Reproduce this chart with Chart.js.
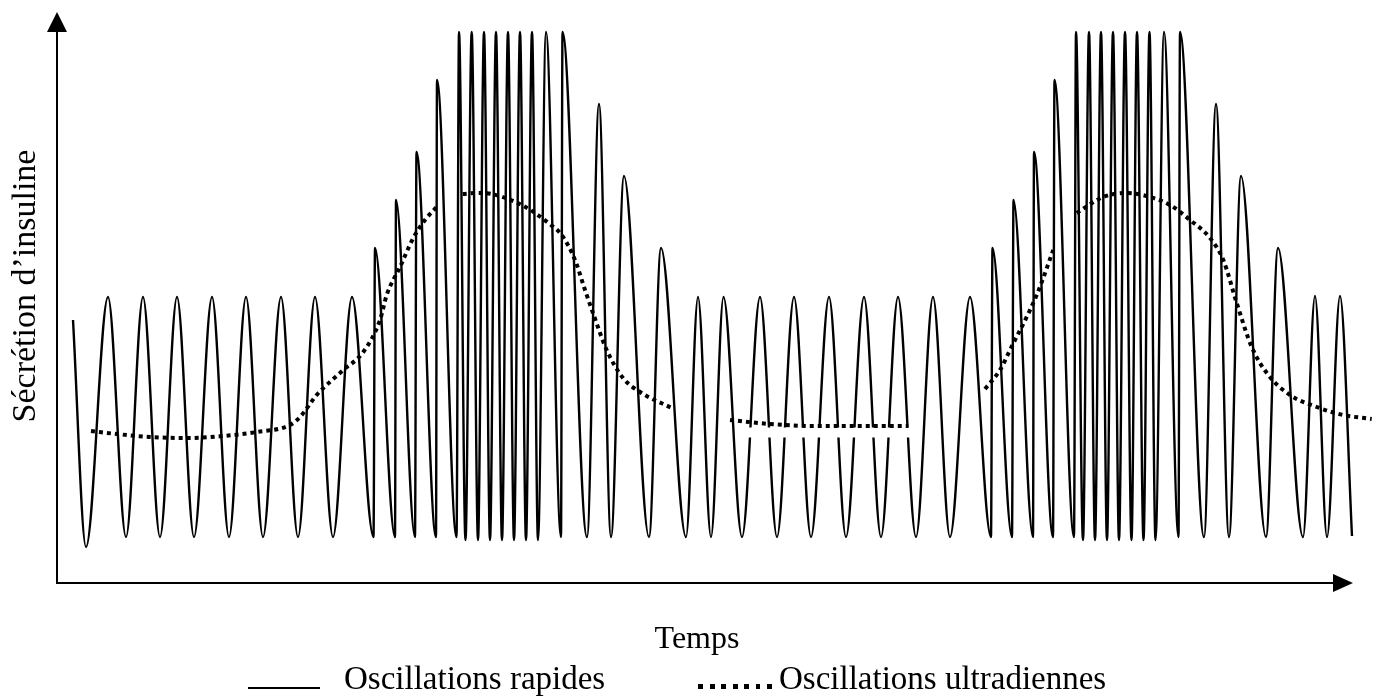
<!DOCTYPE html>
<html lang="fr">
<head>
<meta charset="utf-8">
<title>Sécrétion d'insuline</title>
<script src="https://cdn.jsdelivr.net/npm/chart.js@4/dist/chart.umd.min.js"></script>
<style>
  body { margin: 0; background: #fff; }
  #wrap { position: relative; width: 1386px; height: 697px; overflow: hidden; font-family: "Liberation Serif", "Times New Roman", serif; color: #000; }
  #chart { position: absolute; left: 0; top: 0; }
  .lbl { position: absolute; white-space: nowrap; line-height: 1; }
  #ylab { left: -176px; top: 269px; width: 400px; text-align: center; font-size: 34px; transform: rotate(-90deg); }
  #xlab { left: 597px; top: 621px; width: 200px; text-align: center; font-size: 32px; }
  .leg { top: 662px; font-size: 33px; }
  #legSolid { position: absolute; left: 248px; top: 687px; width: 72px; height: 2px; background: #000; }
  #legDot { position: absolute; left: 698px; top: 684px; width: 74px; height: 5px;
            background: repeating-linear-gradient(90deg, #000 0 5px, transparent 5px 11.5px); }
</style>
</head>
<body>
<div id="wrap">
  <canvas id="chart" width="1386" height="697"></canvas>
  <div class="lbl" id="ylab">Sécrétion d’insuline</div>
  <div class="lbl" id="xlab">Temps</div>
  <div id="legSolid"></div>
  <div class="lbl leg" style="left:344px">Oscillations rapides</div>
  <div id="legDot"></div>
  <div class="lbl leg" style="left:779px">Oscillations ultradiennes</div>
</div>
<script>
//Fast oscillations: peaks and troughs (time, level)
let rapidTime = [16, 29, 51, 69, 86, 103, 120, 137, 155, 172, 189, 206, 224, 241, 258, 276, 295, 316.5,
    318, 338, 339, 358, 359.5, 379, 380, 399.5,
    402, 408.5, 414.7, 421, 427, 433, 439, 445, 451, 457, 463, 469, 475, 481,
    489, 504, 505.5, 530, 542, 554, 567, 592, 604, 629,
    641, 654, 666.5, 685, 703, 720, 737, 754, 772, 789, 807, 824, 841, 859, 876, 893, 913, 934,
    935.5, 955, 956.5, 976, 977, 996, 997.5, 1017,
    1019, 1026, 1032, 1038, 1044, 1050, 1056, 1062, 1068, 1074.5, 1080, 1086.5, 1092.5, 1098.5,
    1107, 1121.5, 1123, 1147, 1159, 1172, 1184, 1209, 1221, 1246,
    1258, 1270, 1283, 1295];
let rapidLevel = [263, 36, 286, 46, 286, 46, 286, 46, 286, 46, 286, 46, 286, 46, 286, 46, 286, 46,
    335, 46, 383, 46, 431, 46, 503, 46,
    551, 43, 551, 43, 551, 43, 551, 43, 551, 43, 551, 43, 551, 43,
    551, 46, 551, 46, 479, 46, 407, 46, 335, 46,
    286, 46, 286, 46, 286, 46, 286, 46, 286, 46, 286, 46, 286, 46, 286, 46, 286, 46,
    335, 46, 383, 46, 431, 46, 503, 46,
    551, 43, 551, 43, 551, 43, 551, 43, 551, 43, 551, 43, 551, 43,
    551, 46, 551, 46, 479, 46, 407, 46, 335, 46,
    287, 46, 287, 47];

//Ultradian oscillations (dotted), null = break in the curve
let ultraTime = [34, 59.7, 93, 133, 166, 199.7, 233, 243, 259.7, 286.3, 306.3, 323, 329.7, 343, 356.3, 368, 379.7,
    392,
    405.7, 421.3, 434.7, 451.3, 464.7, 478, 491.3, 504.7, 518, 528, 536, 549.7, 566, 583, 614.7,
    644,
    673, 713, 756.3, 806.3, 851.3,
    890,
    928, 943, 953, 979.7, 996.3,
    1008,
    1019.7, 1046.3, 1069.7, 1093, 1113, 1133, 1153, 1166.3, 1179.7, 1194.7, 1211.3, 1233, 1259.7, 1286.3, 1314.7];
let ultraLevel = [152, 149, 146, 145, 147, 151, 158, 166, 188, 213, 231, 263, 288, 316, 345, 363, 376,
    null,
    389, 390, 389, 384, 378, 370, 360, 348, 323, 293, 270, 233, 205, 191, 175,
    null,
    163, 159, 157, 157, 157,
    null,
    194, 213, 233, 288, 333,
    null,
    370, 386, 390, 386, 378, 363, 345, 323, 280, 236, 208, 188, 176, 168, 164];

//White band under the flat part of the dotted curve
let maskTime = [678, 853];
let maskLevel = [150.5, 150.5];

function toPoints(xs, ys) {
    let arr = [];
    for (let i = 0; i < xs.length; i++) {
        arr.push({x: xs[i], y: ys[i]});
    }
    return arr;
}

//Axes with arrow heads
const axesArrows = {
    id: 'axesArrows',
    afterDraw(chart) {
        const ctx = chart.ctx;
        const x0 = chart.chartArea.left;
        const y0 = chart.chartArea.bottom;
        ctx.save();
        ctx.strokeStyle = '#000';
        ctx.fillStyle = '#000';
        ctx.lineWidth = 2;
        ctx.beginPath();
        ctx.moveTo(x0, y0 + 1);
        ctx.lineTo(x0, 30);
        ctx.moveTo(x0 - 1, y0);
        ctx.lineTo(1336, y0);
        ctx.stroke();
        ctx.beginPath();
        ctx.moveTo(x0, 12);
        ctx.lineTo(x0 - 10, 32);
        ctx.lineTo(x0 + 10, 32);
        ctx.closePath();
        ctx.fill();
        ctx.beginPath();
        ctx.moveTo(1353, y0);
        ctx.lineTo(1333, y0 - 9);
        ctx.lineTo(1333, y0 + 9);
        ctx.closePath();
        ctx.fill();
        ctx.restore();
    }
};

new Chart(document.getElementById('chart'), {
    type: 'line',
    data: {
        datasets: [{
            label: 'Oscillations ultradiennes',
            data: toPoints(ultraTime, ultraLevel),
            borderColor: '#000',
            borderWidth: 4,
            borderDash: [4, 4],
            borderCapStyle: 'butt',
            cubicInterpolationMode: 'monotone',
            pointRadius: 0,
            spanGaps: false,
            order: 0
        }, {
            label: 'mask',
            data: toPoints(maskTime, maskLevel),
            borderColor: '#fff',
            borderWidth: 10,
            pointRadius: 0,
            order: 1
        }, {
            label: 'Oscillations rapides',
            data: toPoints(rapidTime, rapidLevel),
            borderColor: '#000',
            borderWidth: 2.4,
            cubicInterpolationMode: 'monotone',
            pointRadius: 0,
            order: 2
        }]
    },
    options: {
        responsive: false,
        animation: false,
        devicePixelRatio: 1,
        layout: {padding: {left: 57, right: 6, top: 15, bottom: 114}},
        plugins: {
            legend: {display: false},
            tooltip: {enabled: false}
        },
        scales: {
            x: {type: 'linear', min: 0, max: 1323, display: false},
            y: {type: 'linear', min: 0, max: 568, display: false}
        }
    },
    plugins: [axesArrows]
});
</script>
</body>
</html>
